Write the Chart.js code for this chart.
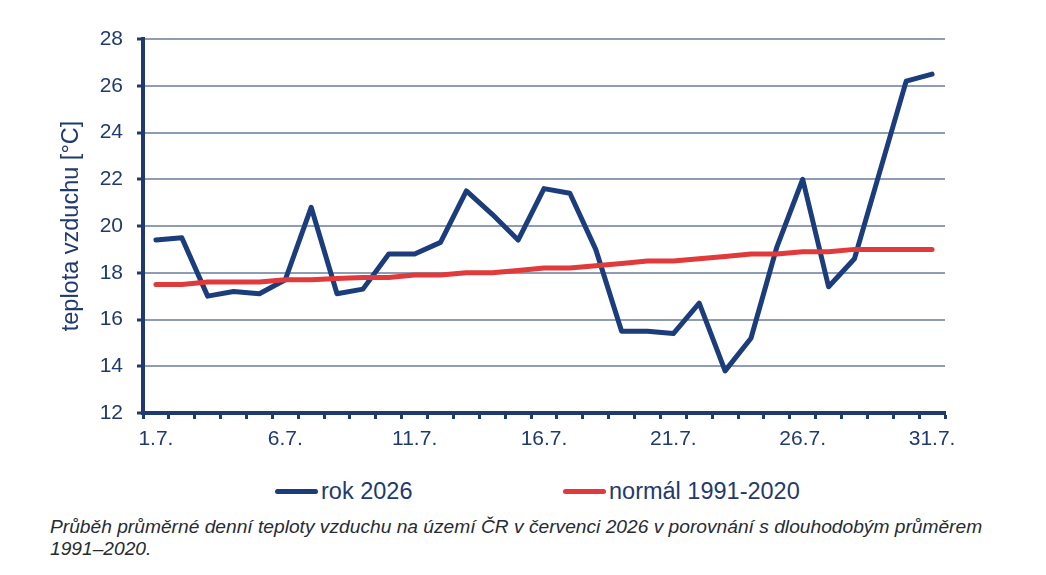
<!DOCTYPE html>
<html>
<head>
<meta charset="utf-8">
<script src="https://cdn.jsdelivr.net/npm/chart.js@4"></script>
<style>
  body { margin: 0; background: #fff; font-family: "Liberation Sans", Arial, sans-serif; }
  #wrap { position: relative; width: 1046px; height: 575px; }
  #box { position: absolute; left: 0; top: 0; width: 1046px; height: 460px; }
  .leg { position: absolute; top: 476px; font-size: 23.5px; color: #1f3a6e; line-height: 30px; white-space: nowrap; }
  .leg span { display: inline-block; width: 43px; height: 5px; border-radius: 3px; vertical-align: middle; margin-right: 3px; position: relative; top: -1px; }
  #caption { position: absolute; left: 50px; top: 516px; font-size: 19.2px; font-style: italic; color: #262b33; line-height: 22px; width: 990px; }
</style>
</head>
<body>
<div id="wrap">
  <div id="box"><canvas id="tempChart"></canvas></div>
  <div class="leg" style="left:275px"><span style="background:#1b3d7c"></span>rok 2026</div>
  <div class="leg" style="left:563px"><span style="background:#e03a3a"></span>normál 1991-2020</div>
  <div id="caption">Průběh průměrné denní teploty vzduchu na území ČR v červenci 2026 v porovnání s dlouhodobým průměrem 1991–2020.</div>
</div>
<script>
// Days of July
const days = [
  "1.7.", "2.7.", "3.7.", "4.7.", "5.7.", "6.7.", "7.7.", "8.7.", "9.7.", "10.7.",
  "11.7.", "12.7.", "13.7.", "14.7.", "15.7.", "16.7.", "17.7.", "18.7.", "19.7.", "20.7.",
  "21.7.", "22.7.", "23.7.", "24.7.", "25.7.", "26.7.", "27.7.", "28.7.", "29.7.", "30.7.", "31.7."
];

// Daily mean temperature 2026
const year2026 = [
  19.4, 19.5, 17.0, 17.2, 17.1, 17.7, 20.8, 17.1, 17.3, 18.8,
  18.8, 19.3, 21.5, 20.5, 19.4, 21.6, 21.4, 19.0, 15.5, 15.5,
  15.4, 16.7, 13.8, 15.2, 19.1, 22.0, 17.4, 18.6, 22.4, 26.2, 26.5
];

// Normal 1991-2020
const normal = [
  17.5, 17.5, 17.6, 17.6, 17.6, 17.7, 17.7, 17.75, 17.8, 17.8,
  17.9, 17.9, 18.0, 18.0, 18.1, 18.2, 18.2, 18.3, 18.4, 18.5,
  18.5, 18.6, 18.7, 18.8, 18.8, 18.9, 18.9, 19.0, 19.0, 19.0, 19.0
];

const navy = "#1f3a6e";
const gridColor = "#8e9db3";
const tickFont = { family: "'Liberation Sans', Arial, sans-serif", size: 21 };

new Chart(document.getElementById("tempChart"), {
  type: "line",
  data: {
    labels: days,
    datasets: [
      {
        label: "rok 2026",
        data: year2026,
        borderColor: "#1b3d7c",
        backgroundColor: "#1b3d7c",
        borderWidth: 5,
        pointRadius: 0,
        tension: 0,
        borderJoinStyle: "round",
        borderCapStyle: "round",
        order: 1,
      },
      {
        label: "normál 1991-2020",
        data: normal,
        borderColor: "#e03a3a",
        backgroundColor: "#e03a3a",
        borderWidth: 5,
        pointRadius: 0,
        tension: 0,
        borderJoinStyle: "round",
        borderCapStyle: "round",
        order: 0,
      },
    ],
  },
  options: {
    responsive: true,
    maintainAspectRatio: false,
    animation: false,
    layout: { padding: { left: 0, top: 39, right: 101, bottom: 0 } },
    scales: {
      x: {
        type: "category",
        offset: true,
        afterFit: (scale) => { scale.height = 47; },
        grid: {
          offset: true,
          drawOnChartArea: false,
          tickLength: 6,
          tickWidth: 3,
          tickColor: navy,
        },
        border: { color: navy, width: 4 },
        ticks: {
          autoSkip: false,
          maxRotation: 0,
          padding: 8,
          color: navy,
          font: tickFont,
          callback: (val, idx) => (idx % 5 === 0 ? days[idx] : ""),
        },
      },
      y: {
        min: 12,
        max: 28,
        afterFit: (scale) => { scale.width = 143; },
        grid: {
          color: gridColor,
          lineWidth: 2,
          tickLength: 6,
          tickWidth: 3,
          tickColor: navy,
        },
        border: { color: navy, width: 4 },
        ticks: {
          stepSize: 2,
          padding: 14,
          color: navy,
          font: tickFont,
        },
        title: {
          display: true,
          text: "teplota vzduchu [°C]",
          color: navy,
          font: { family: "'Liberation Sans', Arial, sans-serif", size: 23.5 },
          padding: { top: 57, bottom: 0 },
        },
      },
    },
    plugins: {
      legend: { display: false },
      tooltip: { enabled: false },
    },
  },
});
</script>
</body>
</html>
